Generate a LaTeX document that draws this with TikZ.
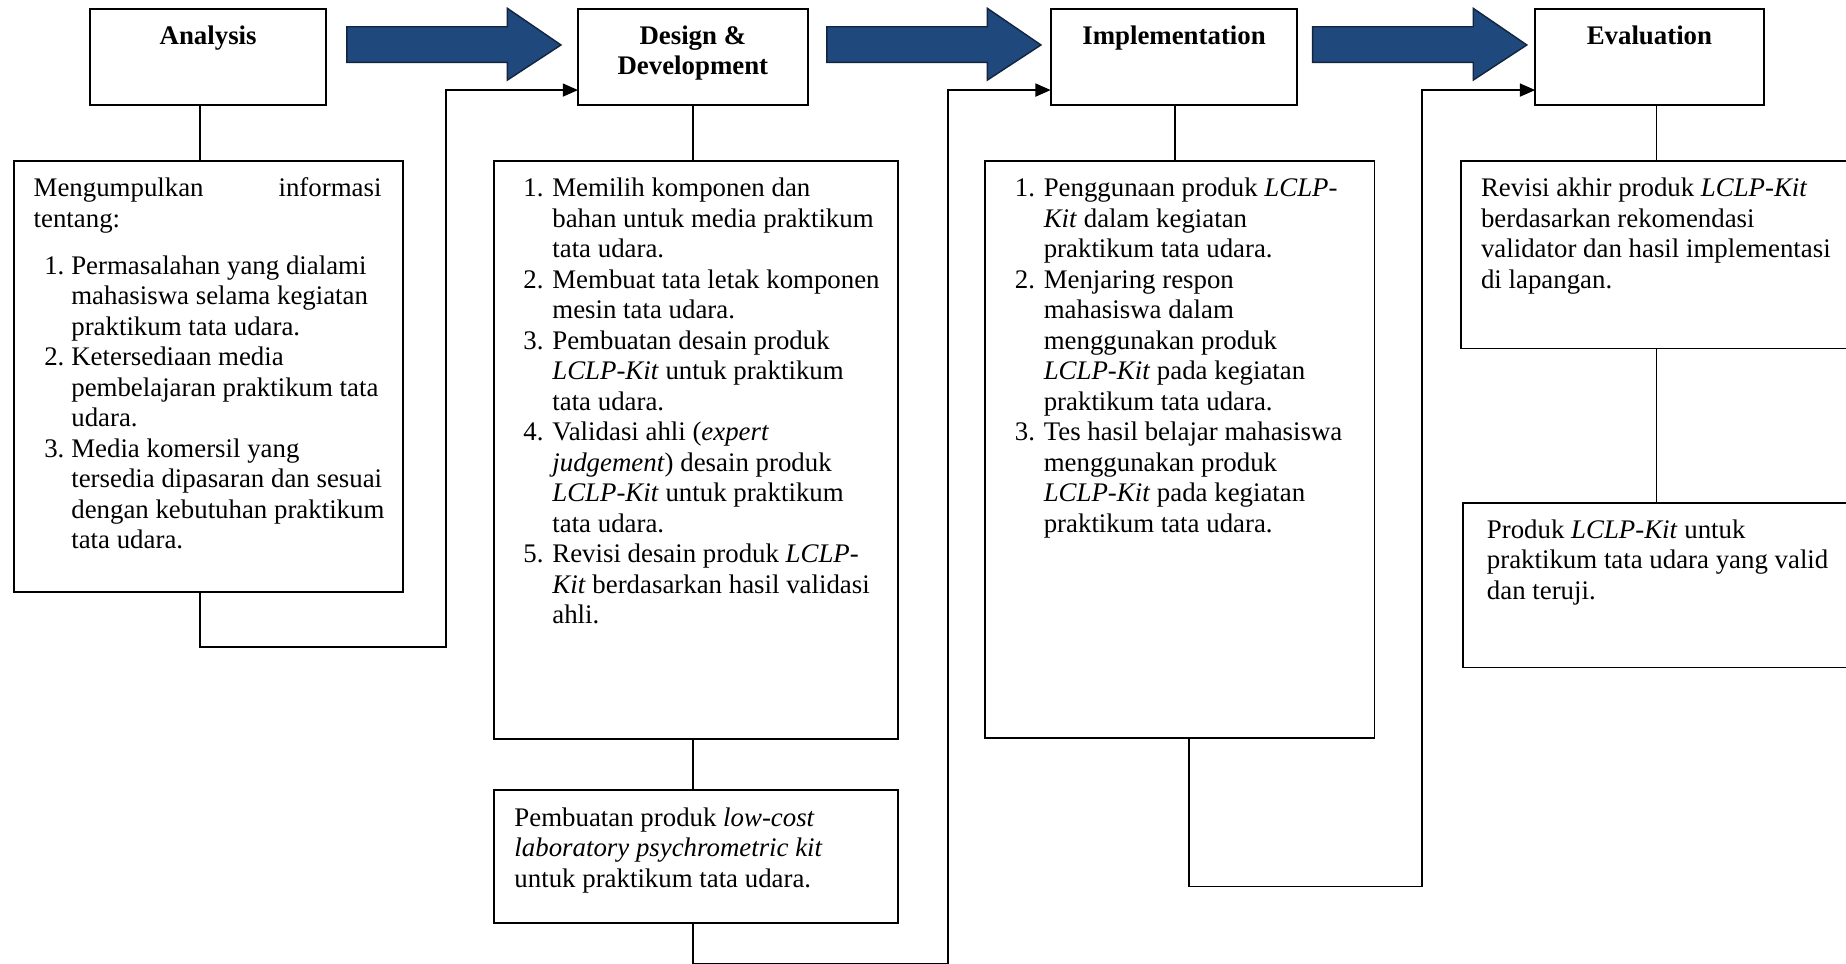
\documentclass[tikz,border=0pt]{standalone}
\usepackage{fontspec}
\setmainfont{Liberation Serif}
\usetikzlibrary{arrows.meta,fit}
\definecolor{arrowblue}{RGB}{31,73,125}
\definecolor{arrowedge}{RGB}{18,36,62}
\newcommand{\AItem}[1]{\hspace*{4.5pt}\makebox[11.5pt][l]{#1}}
\newcommand{\AInd}{\hspace*{16pt}}
\newcommand{\LItem}[1]{\makebox[12.3pt][l]{#1}}
\newcommand{\LInd}{\hspace*{12.3pt}}
\tikzset{
  box/.style={draw=black, line width=0.8pt, inner sep=0pt, outer sep=0pt},
  txt/.style={inner sep=0pt, outer sep=0pt, anchor=north west, align=left,
              font=\fontsize{11.4}{12.95}\selectfont},
  ttl/.style={inner sep=0pt, outer sep=0pt, anchor=north, align=center,
              font=\fontsize{11.4}{12.95}\selectfont\bfseries},
  conn/.style={draw=black, line width=0.75pt},
  inarrow/.style={-{Triangle[length=6.5pt,width=5.5pt]}},
  blockarrow/.style={fill=arrowblue, draw=arrowedge, line width=0.6pt, line join=miter},
}
\newcommand{\BigArrow}[1]{%
  \draw[blockarrow] (#1,22.7) -- ++(136.4,0) -- ++(0,-15.6) -- (#1+181.9,38.2)
    -- (#1+136.4,68) -- ++(0,-15) -- (#1,53) -- cycle;}
\begin{document}
\begin{tikzpicture}[x=0.5pt,y=-0.5pt]
\clip (0,0) rectangle (1568,818);
\fill[white] (0,0) rectangle (1568,818);

% phase boxes
\node[box, fit={(76.6,8) (277,89)}] (ana) {};
\node[box, fit={(491,8) (686,89)}] (des) {};
\node[box, fit={(892.5,8) (1102,89)}] (imp) {};
\node[box, fit={(1304,8) (1498,89)}] (eva) {};

\node[ttl, yshift=-5.8pt] (anaTl) at (ana.north) {\strut Analysis};
\node[ttl, yshift=-5.8pt] (desTl) at (des.north) {\strut Design \&\\Development};
\node[ttl, yshift=-5.8pt] (impTl) at (imp.north) {\strut Implementation};
\node[ttl, yshift=-5.8pt] (evaTl) at (eva.north) {\strut Evaluation};

% block arrows
\BigArrow{294.6}
\BigArrow{702.3}
\BigArrow{1115}

% content boxes
\node[box, fit={(11.8,136.8) (342,502.6)}] (anaT) {};
\node[box, fit={(419.4,136.8) (762.6,628)}] (desT) {};
\node[box, fit={(419.4,671) (762.6,784.3)}] (prod) {};
\node[box, fit={(836.5,136.8) (1167.5,627)}] (impT) {};
\node[box, fit={(1241,136.8) (1600,296)}] (evT1) {};
\node[box, fit={(1243,427.6) (1600,567)}] (evT2) {};

% texts
\node[txt] (anaTx) at (28.6,148.9) {\strut\hbox to 147.7pt{Mengumpulkan\hfill informasi}\\
tentang:\\[7pt]
\AItem{1.}Permasalahan yang dialami\\
\AInd mahasiswa selama kegiatan\\
\AInd praktikum tata udara.\\
\AItem{2.}Ketersediaan media\\
\AInd pembelajaran praktikum tata\\
\AInd udara.\\
\AItem{3.}Media komersil yang\\
\AInd tersedia dipasaran dan sesuai\\
\AInd dengan kebutuhan praktikum\\
\AInd tata udara.};

\node[txt] (desTx) at (444.6,148.9) {\strut\LItem{1.}Memilih komponen dan\\
\LInd bahan untuk media praktikum\\
\LInd tata udara.\\
\LItem{2.}Membuat tata letak komponen\\
\LInd mesin tata udara.\\
\LItem{3.}Pembuatan desain produk\\
\LInd \textit{LCLP-Kit} untuk praktikum\\
\LInd tata udara.\\
\LItem{4.}Validasi ahli (\textit{expert}\\
\LInd \textit{judgement}) desain produk\\
\LInd \textit{LCLP-Kit} untuk praktikum\\
\LInd tata udara.\\
\LItem{5.}Revisi desain produk \textit{LCLP-}\\
\LInd \textit{Kit} berdasarkan hasil validasi\\
\LInd ahli.};

\node[txt] (prodTx) at (437,683.6) {\strut Pembuatan produk \textit{low-cost}\\
\textit{laboratory psychrometric kit}\\
untuk praktikum tata udara.};

\node[txt] (impTx) at (862,148.9) {\strut\LItem{1.}Penggunaan produk \textit{LCLP-}\\
\LInd \textit{Kit} dalam kegiatan\\
\LInd praktikum tata udara.\\
\LItem{2.}Menjaring respon\\
\LInd mahasiswa dalam\\
\LInd menggunakan produk\\
\LInd \textit{LCLP-Kit} pada kegiatan\\
\LInd praktikum tata udara.\\
\LItem{3.}Tes hasil belajar mahasiswa\\
\LInd menggunakan produk\\
\LInd \textit{LCLP-Kit} pada kegiatan\\
\LInd praktikum tata udara.};

\node[txt] (ev1Tx) at (1258,148.9) {\strut Revisi akhir produk \textit{LCLP-Kit}\\
berdasarkan rekomendasi\\
validator dan hasil implementasi\\
di lapangan.};

\node[txt] (ev2Tx) at (1263,439.2) {\strut Produk \textit{LCLP-Kit} untuk\\
praktikum tata udara yang valid\\
dan teruji.};

% helper coordinates
\coordinate (xA) at (170,0);
\coordinate (xD) at (588.4,0);
\coordinate (xI) at (998,0);
\coordinate (xI2) at (1009.7,0);
\coordinate (xE) at (1407,0);
\coordinate (yin) at (0,76.5);
\coordinate (k1) at (378.6,549.3);
\coordinate (k2) at (805.5,818.6);
\coordinate (k3) at (1208,753);

% connectors
\draw[conn] (ana.south -| xA) -- (anaT.north -| xA);
\draw[conn] (des.south -| xD) -- (desT.north -| xD);
\draw[conn] (desT.south -| xD) -- (prod.north -| xD);
\draw[conn] (imp.south -| xI) -- (impT.north -| xI);
\draw[conn] (eva.south -| xE) -- (evT1.north -| xE);
\draw[conn] (evT1.south -| xE) -- (evT2.north -| xE);

\draw[conn, inarrow] (anaT.south -| xA) |- (k1) |- (des.west |- yin);
\draw[conn, inarrow] (prod.south -| xD) |- (k2) |- (imp.west |- yin);
\draw[conn, inarrow] (impT.south -| xI2) |- (k3) |- (eva.west |- yin);
\end{tikzpicture}
\end{document}
